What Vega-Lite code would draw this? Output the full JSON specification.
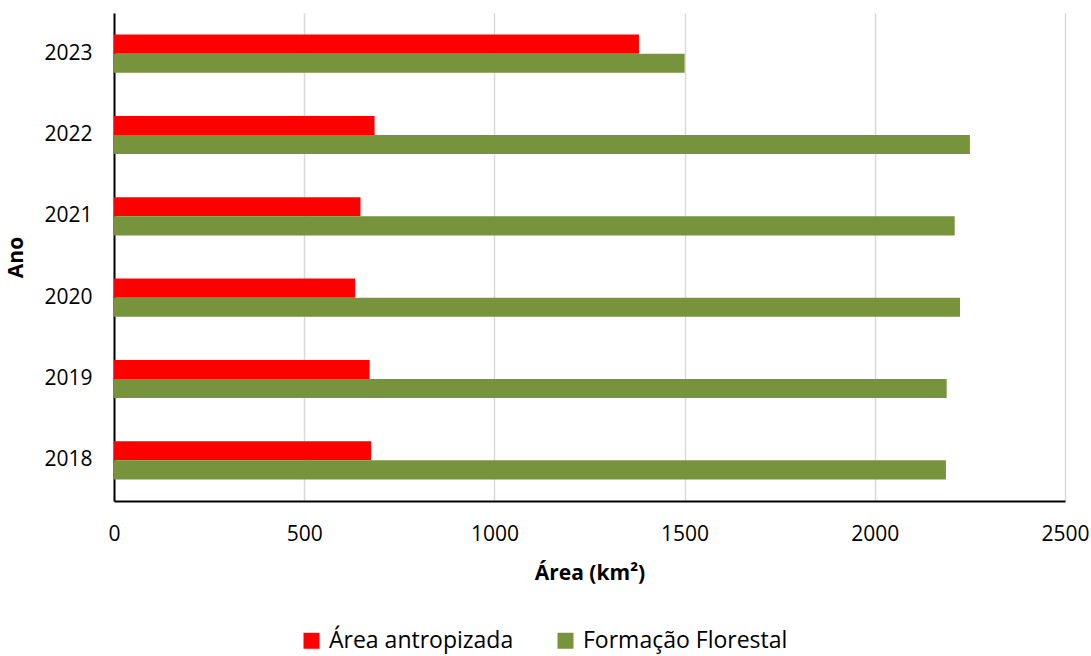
{
  "$schema": "https://vega.github.io/schema/vega-lite/v6.json",
  "autosize": "none",
  "width": 951,
  "height": 488,
  "padding": {"left": 114, "top": 13, "right": 26, "bottom": 155},
  "background": "white",
  "config": {
    "font": "Open Sans",
    "view": {"stroke": null}
  },
  "data": {
    "values": [
      {"ano": "2023", "classe": "Área antropizada", "area": 1380},
      {"ano": "2023", "classe": "Formação Florestal", "area": 1500},
      {"ano": "2022", "classe": "Área antropizada", "area": 685},
      {"ano": "2022", "classe": "Formação Florestal", "area": 2250},
      {"ano": "2021", "classe": "Área antropizada", "area": 648},
      {"ano": "2021", "classe": "Formação Florestal", "area": 2210},
      {"ano": "2020", "classe": "Área antropizada", "area": 634},
      {"ano": "2020", "classe": "Formação Florestal", "area": 2224},
      {"ano": "2019", "classe": "Área antropizada", "area": 672},
      {"ano": "2019", "classe": "Formação Florestal", "area": 2189},
      {"ano": "2018", "classe": "Área antropizada", "area": 676},
      {"ano": "2018", "classe": "Formação Florestal", "area": 2187}
    ]
  },
  "mark": {"type": "bar"},
  "encoding": {
    "y": {
      "field": "ano",
      "type": "nominal",
      "sort": ["2023", "2022", "2021", "2020", "2019", "2018"],
      "scale": {"paddingInner": 0.53, "paddingOuter": 0.265},
      "axis": {
        "title": "Ano",
        "titleFontSize": 21,
        "titleFontWeight": "bold",
        "titleColor": "black",
        "titlePadding": 17,
        "labelFontSize": 21,
        "labelColor": "black",
        "labelPadding": 22,
        "ticks": false,
        "domainColor": "black",
        "domainWidth": 2,
        "grid": false
      }
    },
    "yOffset": {
      "field": "classe",
      "type": "nominal",
      "sort": ["Área antropizada", "Formação Florestal"],
      "scale": {"paddingInner": 0, "paddingOuter": 0}
    },
    "x": {
      "field": "area",
      "type": "quantitative",
      "scale": {"domain": [0, 2500], "nice": false},
      "axis": {
        "title": "Área (km²)",
        "titleFontSize": 21,
        "titleFontWeight": "bold",
        "titleColor": "black",
        "titlePadding": 18,
        "values": [0, 500, 1000, 1500, 2000, 2500],
        "format": "d",
        "labelFontSize": 21,
        "labelColor": "black",
        "labelPadding": 22,
        "labelFlush": false,
        "ticks": false,
        "domainColor": "black",
        "domainWidth": 2,
        "gridColor": "#d9d9d9",
        "gridWidth": 1.5
      }
    },
    "color": {
      "field": "classe",
      "type": "nominal",
      "sort": ["Área antropizada", "Formação Florestal"],
      "scale": {"domain": ["Área antropizada", "Formação Florestal"], "range": ["#ff0000", "#77933c"]},
      "legend": {
        "title": null,
        "orient": "none",
        "direction": "horizontal",
        "legendX": 186,
        "legendY": 616,
        "symbolType": "square",
        "symbolSize": 256,
        "symbolStrokeWidth": 0,
        "symbolOpacity": 1,
        "labelFontSize": 23,
        "labelLimit": 0,
        "labelColor": "black",
        "labelOffset": 6,
        "columnPadding": 40,
        "padding": 0
      }
    }
  }
}
